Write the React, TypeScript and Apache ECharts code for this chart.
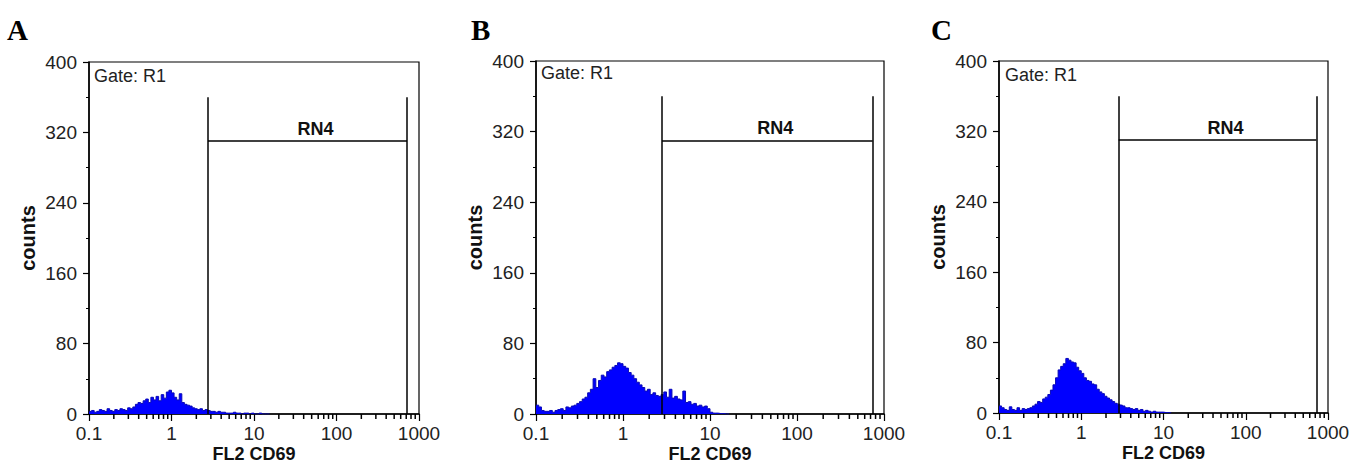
import React, { useEffect, useRef } from "react";
import * as echarts from "echarts";

// ---- data ----
const BIN_START = 0.1; // first channel value
const BINS_PER_DECADE = 32; // channel resolution
const countsA = [
  3, 4, 2, 3, 5, 4, 3, 6, 4, 3, 5, 4, 6, 5, 4, 7,
  6, 8, 11, 13, 12, 15, 17, 13, 19, 16, 20, 15, 22, 18, 25, 27,
  24, 19, 16, 23, 13, 11, 10, 9, 7, 6, 5, 6, 4, 5, 4, 3,
  3, 2, 3, 2, 2, 1, 1, 1, 2, 1, 1, 0, 1, 1, 0, 1,
  0, 0, 1, 0, 0, 0,
];
const countsB = [
  10, 8, 4, 3, 3, 4, 2, 4, 5, 6, 4, 8, 7, 9, 10, 12,
  14, 17, 19, 24, 28, 40, 30, 38, 44, 42, 48, 50, 53, 55, 58, 57,
  54, 52, 47, 44, 40, 36, 33, 30, 26, 28, 22, 24, 21, 20, 22, 25,
  19, 28, 18, 20, 17, 16, 26, 13, 14, 11, 12, 9, 10, 8, 9, 6,
  2, 1, 1, 0.5, 0.5, 0, 0,
];
const countsC = [
  8, 6, 4, 3, 7, 4, 3, 6, 3, 5, 4, 5, 6, 8, 10, 13,
  12, 16, 18, 21, 26, 32, 40, 49, 53, 56, 62, 60, 58, 57, 52, 48,
  45, 40, 37, 36, 33, 32, 27, 24, 22, 19, 17, 15, 13, 11, 10, 9,
  8, 6, 6, 5, 4, 5, 3, 4, 2, 3, 2, 1, 2, 1, 1, 1,
  0.5, 0.5, 0,
];
const panelCounts = [countsA, countsB, countsC];
const panelLetters = ["A", "B", "C"];
const gateLow = [2.77, 2.81, 2.85];
const gateHigh = [716, 741, 720];
const gateTop = 360;
const gateBar = 310;
const gateLabel = "RN4";
const gateText = "Gate: R1";
const xAxisName = "FL2 CD69";
const yAxisName = "counts";
const xMin = 0.1;
const xMax = 1000;
const yMin = 0;
const yMax = 400;
const yInterval = 80;
const minorXTicks = [
  0.2, 0.3, 0.4, 0.5, 0.6, 0.7, 0.8, 0.9,
  2, 3, 4, 5, 6, 7, 8, 9,
  20, 30, 40, 50, 60, 70, 80, 90,
  200, 300, 400, 500, 600, 700, 800, 900,
];

// ---- layout ----
const grids = [
  { left: 89, top: 62, width: 330, height: 352 },
  { left: 536, top: 61, width: 348, height: 353 },
  { left: 999, top: 61, width: 329, height: 352 },
];
const letterPos = [
  { x: 7, y: 30 },
  { x: 471, y: 30 },
  { x: 931, y: 30 },
];
const gateTextPos = [
  { x: 94, y: 76 },
  { x: 541, y: 73 },
  { x: 1005, y: 75 },
];
const MINOR_TICK_LEN = 5;

const SANS = "'Liberation Sans', Arial, sans-serif";
const SERIF = "'Liberation Serif', 'Times New Roman', serif";

function channelValue(i: number) {
  return BIN_START * Math.pow(10, i / BINS_PER_DECADE);
}
function histData(counts: number[]) {
  const d: number[][] = counts.map((c, i) => [channelValue(i), c]);
  d.push([channelValue(counts.length), 0]);
  return d;
}

export default function App() {
  const ref = useRef<HTMLDivElement>(null);
  useEffect(() => {
    document.body.style.margin = "0";
    if (!ref.current) return;
    const chart = echarts.init(ref.current, undefined, { renderer: "svg" });

    const series: any[] = [];
    panelCounts.forEach((counts, i) => {
      const lo = gateLow[i];
      const hi = gateHigh[i];
      series.push({
        type: "line",
        xAxisIndex: i,
        yAxisIndex: i,
        step: "end",
        symbol: "none",
        data: histData(counts),
        lineStyle: { color: "#0808b8", width: 1 },
        areaStyle: { color: "#0000ff", opacity: 1 },
        z: 2,
        markLine: {
          silent: true,
          symbol: ["none", "none"],
          animation: false,
          label: { show: false },
          lineStyle: { color: "#000", width: 1.5, type: "solid" },
          data: [
            [{ coord: [lo, yMin] }, { coord: [lo, gateTop] }],
            [
              {
                coord: [lo, gateBar],
                label: {
                  show: true,
                  formatter: gateLabel,
                  position: "insideMiddleTop",
                  padding: [0, 0, 0, 16],
                  distance: 3,
                  color: "#111",
                  fontFamily: SANS,
                  fontWeight: "bold",
                  fontSize: 18,
                },
              },
              { coord: [hi, gateBar] },
            ],
            [{ coord: [hi, yMin] }, { coord: [hi, gateTop] }],
          ],
        },
      });
    });

    const graphic: any[] = [];
    panelLetters.forEach((l, i) => {
      graphic.push({
        type: "text",
        left: letterPos[i].x,
        top: letterPos[i].y - 15,
        style: {
          text: l,
          fill: "#000",
          font: `bold 29px ${SERIF}`,
        },
      });
      graphic.push({
        type: "text",
        x: gateTextPos[i].x,
        y: gateTextPos[i].y,
        style: {
          text: gateText,
          fill: "#222",
          font: `18px ${SANS}`,
          verticalAlign: "middle",
        },
        z: 10,
      });
    });

    chart.setOption({
      animation: false,
      backgroundColor: "#fff",
      grid: grids.map((g) => ({
        ...g,
        outerBoundsMode: "none",
        containLabel: false,
        show: true,
        borderColor: "#000",
        borderWidth: 1.2,
        backgroundColor: "transparent",
      })),
      xAxis: grids.map((_, i) => ({
        gridIndex: i,
        type: "log",
        logBase: 10,
        min: xMin,
        max: xMax,
        name: xAxisName,
        nameLocation: "middle",
        nameGap: 31,
        nameMoveOverlap: false,
        nameTextStyle: {
          fontFamily: SANS,
          fontWeight: "bold",
          fontSize: 18,
          color: "#111",
        },
        axisLine: { show: true, lineStyle: { color: "#000", width: 1.5 } },
        axisTick: { show: true, length: 7, lineStyle: { color: "#000", width: 1.2 } },
        minorTick: { show: false },
        splitLine: { show: false },
        axisLabel: {
          margin: 10,
          fontFamily: SANS,
          fontSize: 19,
          color: "#222",
          formatter: (v: number) => (v < 1 ? v.toFixed(1) : String(Math.round(v))),
        },
      })),
      yAxis: grids.map((_, i) => ({
        gridIndex: i,
        type: "value",
        min: yMin,
        max: yMax,
        interval: yInterval,
        name: yAxisName,
        nameLocation: "middle",
        nameGap: 51,
        nameMoveOverlap: false,
        nameTextStyle: {
          fontFamily: SANS,
          fontWeight: "bold",
          fontSize: 20,
          color: "#111",
        },
        axisLine: { show: true, lineStyle: { color: "#000", width: 1.5 } },
        axisTick: { show: true, length: 6, lineStyle: { color: "#000", width: 1.2 } },
        minorTick: { show: true, splitNumber: 2, length: 3, lineStyle: { color: "#000", width: 1 } },
        splitLine: { show: false },
        minorSplitLine: { show: false },
        axisLabel: {
          margin: 12,
          fontFamily: SANS,
          fontSize: 19,
          color: "#222",
        },
      })),
      series,
      graphic,
    });

    // minor log ticks (2..9 per decade), placed through the axis scales
    const tickGraphics: any[] = [];
    grids.forEach((_, i) => {
      minorXTicks.forEach((v) => {
        const p = chart.convertToPixel({ xAxisIndex: i, yAxisIndex: i }, [v, yMin]) as number[];
        if (!p || !isFinite(p[0]) || !isFinite(p[1])) return;
        tickGraphics.push({
          type: "rect",
          silent: true,
          shape: { x: p[0] - 0.75, y: p[1], width: 1.5, height: MINOR_TICK_LEN },
          style: { fill: "#000" },
          z: 20,
        });
      });
    });
    chart.setOption({ graphic: [...graphic, ...tickGraphics] });

    return () => chart.dispose();
  }, []);
  return <div ref={ref} style={{ width: 1350, height: 464 }} />;
}
